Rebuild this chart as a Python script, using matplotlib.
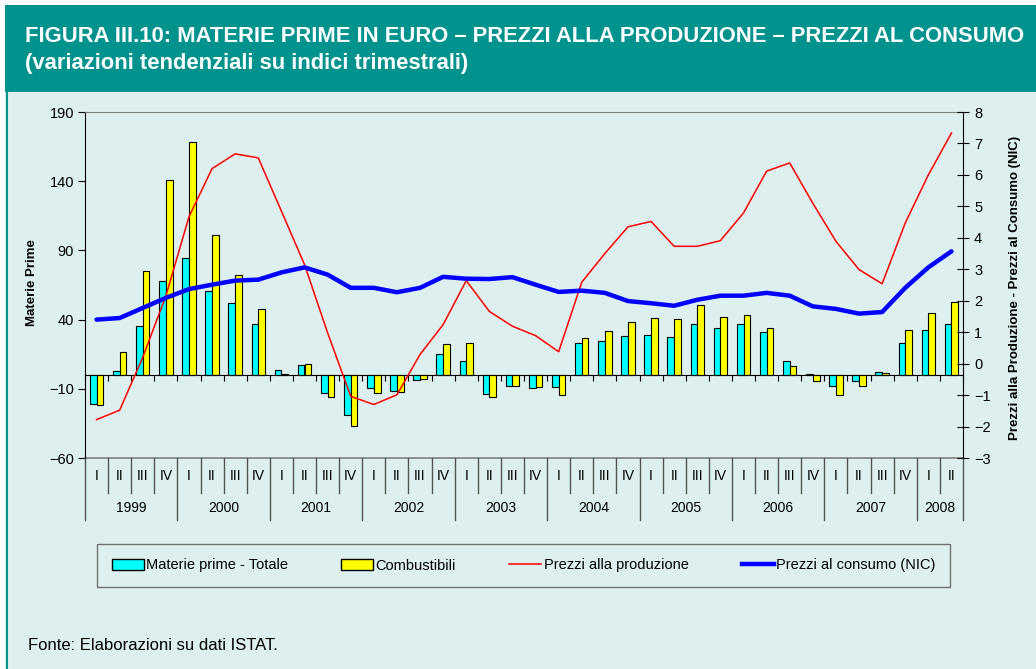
import matplotlib.pyplot as plt
import numpy as np
from matplotlib.patches import Rectangle, Patch
from matplotlib.lines import Line2D

plt.rcParams["font.family"] = ["Liberation Sans", "DejaVu Sans"]

# --- dati (variazioni tendenziali, trimestrali 1999 Q1 - 2008 Q2) ---
trimestri = ["I", "II", "III", "IV"] * 9 + ["I", "II"]
anni = ["1999", "2000", "2001", "2002", "2003", "2004", "2005", "2006", "2007", "2008"]

materie_prime = [-21, 3, 35.4, 67.7, 84.5, 60.5, 52, 37, 3.4, 7.2, -13.2, -29,
                 -9.6, -11.3, -3.4, 15.4, 10.4, -13.5, -8, -9.4, -8.9, 22.9, 24.8, 27.9,
                 28.7, 27.2, 36.8, 33.7, 36.8, 31.3, 9.9, 0.7, -8.2, -4.1, 1.9, 22.9,
                 32.3, 37.1]
combustibili = [-22, 16.4, 75, 140.7, 168, 101, 72.3, 48, 0.7, 8, -16, -37,
                -13.2, -12.3, -2.9, 22.2, 22.9, -15.7, -8, -8.7, -14.5, 27, 31.8, 38.3,
                41.2, 40.5, 50.3, 41.7, 43.1, 33.7, 6.3, -4.1, -14.2, -8.2, 1.2, 32.5,
                44.8, 52.7]
prezzi_produzione = [-1.78, -1.48, 0.2, 2.15, 4.67, 6.2, 6.67, 6.54, 4.85, 3.15, 0.98, -1.04,
                     -1.3, -0.99, 0.29, 1.24, 2.64, 1.66, 1.19, 0.89, 0.38, 2.59, 3.5, 4.35,
                     4.52, 3.73, 3.73, 3.91, 4.79, 6.12, 6.38, 5.1, 3.89, 2.99, 2.54, 4.47,
                     6.0, 7.33]
prezzi_consumo = [1.4, 1.45, 1.77, 2.09, 2.37, 2.51, 2.64, 2.67, 2.9, 3.06, 2.83, 2.41,
                  2.41, 2.27, 2.41, 2.76, 2.70, 2.69, 2.75, 2.51, 2.28, 2.32, 2.25, 1.99,
                  1.92, 1.84, 2.03, 2.16, 2.16, 2.25, 2.16, 1.82, 1.74, 1.59, 1.64, 2.41,
                  3.06, 3.57]

W, H = 1036, 669
bg = "#DDEFEE"
teal = "#00938E"

fig = plt.figure(figsize=(W / 100, H / 100), dpi=100, facecolor="white")

# pannello e intestazione
fig.add_artist(Rectangle((5 / W, 0), 1 - 5 / W, 1 - 92 / H, transform=fig.transFigure,
                         facecolor=bg, edgecolor="none", zorder=-10))
fig.add_artist(Rectangle((5 / W, 1 - 92 / H), 1 - 5 / W, 87 / H, transform=fig.transFigure,
                         facecolor=teal, edgecolor="none", zorder=-10))
fig.add_artist(Line2D([6.5 / W, 6.5 / W], [0, 1 - 92 / H], transform=fig.transFigure,
                      color=teal, lw=1.5))

fig.text(25 / W, 1 - 37 / H,
         "FIGURA III.10: MATERIE PRIME IN EURO \u2013 PREZZI ALLA PRODUZIONE \u2013 PREZZI AL CONSUMO",
         color="white", fontsize=15.8, fontweight="bold", va="center", ha="left")
fig.text(25 / W, 1 - 64 / H, "(variazioni tendenziali su indici trimestrali)",
         color="white", fontsize=15.8, fontweight="bold", va="center", ha="left")

# --- grafico ---
ax = fig.add_axes([85 / W, 1 - 458 / H, (963 - 85) / W, (458 - 112) / H])
ax.set_facecolor("none")
x = np.arange(len(trimestri))
bw = 0.29
ax.bar(x - bw / 2, materie_prime, bw, color="#00FFFF", edgecolor="black", linewidth=0.8)
ax.bar(x + bw / 2, combustibili, bw, color="#FFFF00", edgecolor="black", linewidth=0.8)
ax.set_xlim(-0.5, len(trimestri) - 0.5)
ax.set_ylim(-60, 190)
ax.set_yticks([-60, -10, 40, 90, 140, 190])
ax.tick_params(axis="y", direction="out", length=5, labelsize=10.5, pad=3)

ax.spines["bottom"].set_position(("data", 0))
ax.spines["bottom"].set_color("black")
ax.set_xticks(np.arange(-0.5, len(trimestri), 1))
ax.tick_params(axis="x", direction="out", length=4, labelbottom=False)
ax.spines["top"].set_color("#808080")
ax.spines["right"].set_visible(False)
ax.axhline(-60, color="#808080", lw=1.2, clip_on=False)

ax2 = ax.twinx()
ax2.plot(x, prezzi_produzione, color="#FF0000", lw=1.1)
ax2.plot(x, prezzi_consumo, color="#0000FF", lw=3.2, solid_capstyle="round")
ax2.set_ylim(-3, 8)
ax2.set_yticks(range(-3, 9))
ax2.tick_params(axis="y", direction="inout", length=8, labelsize=10.5, pad=4)
for s in ["top", "left", "bottom"]:
    ax2.spines[s].set_visible(False)

# tabella categorie sotto il grafico
tr = ax.get_xaxis_transform()
for k in range(len(trimestri) + 1):
    fine = -0.179 if (k % 4 == 0 or k == len(trimestri)) else -0.101
    ax.plot([k - 0.5, k - 0.5], [0, fine], transform=tr, color="#555555", lw=1, clip_on=False)
for i, q in enumerate(trimestri):
    ax.text(i, -0.052, q, transform=tr, ha="center", va="center", fontsize=10)
for j, a in enumerate(anni):
    inizio = j * 4
    fine = min(inizio + 4, len(trimestri))
    ax.text((inizio + fine - 1) / 2, -0.1445, a, transform=tr, ha="center", va="center", fontsize=10)

fig.text(32 / W, 1 - 283 / H, "Materie Prime", rotation=90, fontweight="bold",
         fontsize=9.5, ha="center", va="center")
fig.text(1015 / W, 1 - 288 / H, "Prezzi alla Produzione - Prezzi al Consumo (NIC)",
         rotation=90, fontweight="bold", fontsize=9.5, ha="center", va="center")

handles = [Patch(facecolor="#00FFFF", edgecolor="black"),
           Patch(facecolor="#FFFF00", edgecolor="black"),
           Line2D([], [], color="#FF0000", lw=1.1),
           Line2D([], [], color="#0000FF", lw=3.2)]
labels = ["Materie prime - Totale", "Combustibili", "Prezzi alla produzione",
          "Prezzi al consumo (NIC)"]
leg = fig.legend(handles, labels, loc="center", ncol=4, mode="expand",
                 bbox_to_anchor=(97 / W, 1 - 588 / H, (950 - 97) / W, 45 / H),
                 fontsize=10.5, frameon=True, fancybox=False, edgecolor="#707070",
                 facecolor=bg, framealpha=1, handlelength=2.2, handleheight=0.75,
                 handletextpad=0.15, borderpad=1.0, borderaxespad=0)
leg.get_frame().set_linewidth(1.0)

fig.text(28 / W, 1 - 646 / H, "Fonte: Elaborazioni su dati ISTAT.", fontsize=12,
         ha="left", va="center")

fig.savefig("out.png", dpi=100, facecolor=fig.get_facecolor())
